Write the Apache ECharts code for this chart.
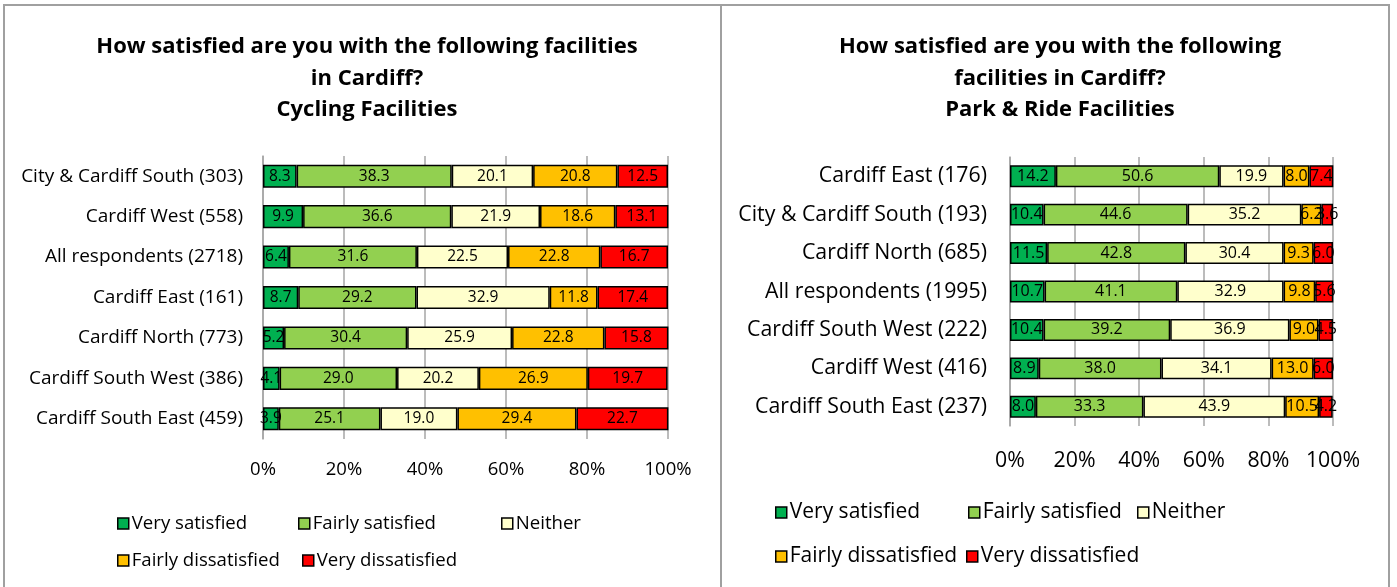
<!DOCTYPE html>
<html>
<head>
<meta charset="utf-8">
<script src="https://cdn.jsdelivr.net/npm/echarts@6/dist/echarts.min.js"></script>
<style>html,body{margin:0;padding:0;background:#fff}#c{width:1397px;height:587px}</style>
</head>
<body>
<div id="c"></div>
<script>
const seriesNames = ['Very satisfied', 'Fairly satisfied', 'Neither', 'Fairly dissatisfied', 'Very dissatisfied'];
const colors = ['#00B050', '#92D050', '#FFFFCC', '#FFC000', '#FF0000'];
const tickLabels = ['0%', '20%', '40%', '60%', '80%', '100%'];

// Left chart: Cycling Facilities
const cycCategories = ['City & Cardiff South (303)', 'Cardiff West (558)', 'All respondents (2718)', 'Cardiff East (161)', 'Cardiff North (773)', 'Cardiff South West (386)', 'Cardiff South East (459)'];
const cycVerySat = [8.3, 9.9, 6.4, 8.7, 5.2, 4.1, 3.9];
const cycFairlySat = [38.3, 36.6, 31.6, 29.2, 30.4, 29.0, 25.1];
const cycNeither = [20.1, 21.9, 22.5, 32.9, 25.9, 20.2, 19.0];
const cycFairlyDis = [20.8, 18.6, 22.8, 11.8, 22.8, 26.9, 29.4];
const cycVeryDis = [12.5, 13.1, 16.7, 17.4, 15.8, 19.7, 22.7];

// Right chart: Park & Ride Facilities
const prCategories = ['Cardiff East (176)', 'City & Cardiff South (193)', 'Cardiff North (685)', 'All respondents (1995)', 'Cardiff South West (222)', 'Cardiff West (416)', 'Cardiff South East (237)'];
const prVerySat = [14.2, 10.4, 11.5, 10.7, 10.4, 8.9, 8.0];
const prFairlySat = [50.6, 44.6, 42.8, 41.1, 39.2, 38.0, 33.3];
const prNeither = [19.9, 35.2, 30.4, 32.9, 36.9, 34.1, 43.9];
const prFairlyDis = [8.0, 6.2, 9.3, 9.8, 9.0, 13.0, 10.5];
const prVeryDis = [7.4, 3.6, 6.0, 5.6, 4.5, 6.0, 4.2];

const cycData = [cycVerySat, cycFairlySat, cycNeither, cycFairlyDis, cycVeryDis];
const prData = [prVerySat, prFairlySat, prNeither, prFairlyDis, prVeryDis];

const FONT = '"Open Sans", sans-serif';

function mkSeries(dataArr, idx, fontSize) {
  return dataArr.map((d, i) => ({
    name: seriesNames[i],
    type: 'bar',
    stack: 's' + idx,
    xAxisIndex: idx,
    yAxisIndex: idx,
    barCategoryGap: '43%',
    data: d,
    itemStyle: { color: colors[i], borderColor: '#000', borderWidth: 1.5 },
    label: { show: true, position: 'inside', color: '#000', fontSize: fontSize, fontFamily: FONT, formatter: p => p.value.toFixed(1) },
    emphasis: { disabled: true }
  }));
}

function mkLegend(name, left, top, fontSize) {
  return {
    data: [name], left: left, top: top, padding: 0, itemGap: 0,
    icon: 'rect', itemWidth: 11, itemHeight: 11,
    itemStyle: { borderColor: '#000', borderWidth: 1.5 },
    textStyle: { fontSize: fontSize, fontFamily: FONT, color: '#000', padding: [0, 0, 0, -2] },
    selectedMode: false
  };
}

const xAxisCommon = (idx, fs, margin) => ({
  type: 'value', gridIndex: idx, min: 0, max: 100, interval: 20,
  axisLine: { show: false }, axisTick: { show: false },
  axisLabel: { fontSize: fs, fontFamily: FONT, color: '#000', margin: margin, formatter: v => tickLabels[v / 20] },
  splitLine: { show: true, lineStyle: { color: '#A6A6A6', width: 1.5 } }
});

const yAxisCommon = (idx, cats, fs, margin) => ({
  type: 'category', gridIndex: idx, data: cats, inverse: true,
  axisLine: { show: true, lineStyle: { color: '#A6A6A6', width: 1.5 } },
  axisTick: { show: false },
  axisLabel: { fontSize: fs, fontFamily: FONT, color: '#000', margin: margin }
});

const option = {
  animation: false,
  backgroundColor: '#fff',
  graphic: [
    { type: 'rect', shape: { x: 4, y: 5, width: 717, height: 600 }, style: { fill: 'none', stroke: '#A0A0A0', lineWidth: 2 }, silent: true },
    { type: 'rect', shape: { x: 721, y: 5, width: 668, height: 600 }, style: { fill: 'none', stroke: '#A0A0A0', lineWidth: 2 }, silent: true }
  ],
  title: [
    { text: 'How satisfied are you with the following facilities\nin Cardiff?\nCycling Facilities', left: 362, top: 26, textAlign: 'center',
      textStyle: { fontSize: 22, fontWeight: 'bold', fontFamily: FONT, color: '#000', lineHeight: 31.5 } },
    { text: 'How satisfied are you with the following\nfacilities in Cardiff?\nPark & Ride Facilities', left: 1055, top: 26, textAlign: 'center',
      textStyle: { fontSize: 22, fontWeight: 'bold', fontFamily: FONT, color: '#000', lineHeight: 31.5 } }
  ],
  legend: [
    mkLegend(seriesNames[0], 117, 514, 18.6),
    mkLegend(seriesNames[1], 298, 514, 18.6),
    mkLegend(seriesNames[2], 501, 514, 18.6),
    mkLegend(seriesNames[3], 117, 551, 18.6),
    mkLegend(seriesNames[4], 302, 551, 18.6),
    mkLegend(seriesNames[0], 775, 502, 21),
    mkLegend(seriesNames[1], 968, 502, 21),
    mkLegend(seriesNames[2], 1137, 502, 21),
    mkLegend(seriesNames[3], 775, 546, 21),
    mkLegend(seriesNames[4], 966, 546, 21)
  ],
  grid: [
    { left: 263, top: 156, width: 405, height: 283 },
    { left: 1010, top: 157, width: 323, height: 269 }
  ],
  xAxis: [xAxisCommon(0, 18.5, 21), xAxisCommon(1, 21.3, 24)],
  yAxis: [yAxisCommon(0, cycCategories, 19, 20), yAxisCommon(1, prCategories, 21.3, 23)],
  series: [...mkSeries(cycData, 0, 15.5), ...mkSeries(prData, 1, 16)]
};

echarts.init(document.getElementById('c')).setOption(option);
</script>
</body>
</html>
